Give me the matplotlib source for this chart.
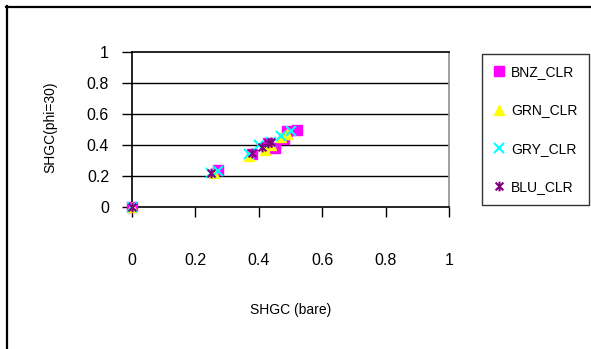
import matplotlib
matplotlib.use("Agg")
import matplotlib.pyplot as plt
from matplotlib.path import Path
from matplotlib.lines import Line2D

plt.rcParams['font.family'] = ['Liberation Sans', 'DejaVu Sans']

# Data
bnz_x = [0, 0.27, 0.38, 0.43, 0.45, 0.48, 0.49, 0.52]
bnz_y = [0, 0.24, 0.34, 0.41, 0.38, 0.44, 0.49, 0.50]
grn_x = [0, 0.26, 0.37, 0.42, 0.44, 0.47, 0.49]
grn_y = [0, 0.22, 0.33, 0.37, 0.40, 0.45, 0.47]
gry_x = [0, 0.25, 0.27, 0.37, 0.40, 0.44, 0.47, 0.50]
gry_y = [0, 0.22, 0.23, 0.34, 0.40, 0.42, 0.46, 0.49]
blu_x = [0, 0.25, 0.38, 0.41, 0.43, 0.44]
blu_y = [0, 0.22, 0.35, 0.39, 0.41, 0.42]
series_names = ["BNZ_CLR", "GRN_CLR", "GRY_CLR", "BLU_CLR"]
ticks = [0, 0.2, 0.4, 0.6, 0.8, 1]
tick_labels = ["0", "0.2", "0.4", "0.6", "0.8", "1"]

W, H = 591, 349
fig = plt.figure(figsize=(W / 100, H / 100), dpi=100)

# outer frame (left and top edges visible)
fig.add_artist(Line2D([6.5 / W, 6.5 / W], [0, 1 - 6 / H], transform=fig.transFigure,
                      color='black', lw=1.6))
fig.add_artist(Line2D([6 / W, 1.0], [1 - 6.5 / H, 1 - 6.5 / H], transform=fig.transFigure,
                      color='black', lw=1.6))

x0, x1 = 132, 449
ytop, ybot = 52, 207
ax = fig.add_axes([x0 / W, 1 - ybot / H, (x1 - x0) / W, (ybot - ytop) / H])

star_path = Path([(-1, -1), (1, 1), (-1, 1), (1, -1), (0, -1.25), (0, 1.25)],
                 [Path.MOVETO, Path.LINETO, Path.MOVETO, Path.LINETO, Path.MOVETO, Path.LINETO])

ax.plot(bnz_x, bnz_y, ls='none', marker='s', ms=7, mfc='#FF00FF', mec='#FF00FF',
        label=series_names[0], clip_on=False, zorder=3)
ax.plot(grn_x, grn_y, ls='none', marker='^', ms=7, mfc='#FFFF00', mec='#FFFF00',
        label=series_names[1], clip_on=False, zorder=3)
ax.plot(gry_x, gry_y, ls='none', marker='x', ms=7, mew=1.5, color='#00FFFF',
        label=series_names[2], clip_on=False, zorder=3)
ax.plot(blu_x, blu_y, ls='none', marker=star_path, ms=7, mew=1.5, color='#800080',
        label=series_names[3], clip_on=False, zorder=3)

ax.set_xlim(0, 1)
ax.set_ylim(0, 1)
ax.set_xticks(ticks)
ax.set_xticklabels(tick_labels)
ax.set_yticks(ticks)
ax.set_yticklabels(tick_labels)

for y in ticks[1:-1]:
    ax.axhline(y, color='black', lw=1.0, zorder=1)

ax.spines['left'].set_color('black')
ax.spines['bottom'].set_color('black')
ax.spines['top'].set_color('black')
ax.spines['right'].set_color('#909090')
for s in ax.spines.values():
    s.set_linewidth(1.2)

ax.tick_params(axis='x', direction='out', length=7, width=1, pad=26, labelsize=11.5)
ax.tick_params(axis='y', direction='out', length=7, width=1, pad=9.5, labelsize=11.5)

fig.text(291 / W, 1 - 310 / H, "SHGC (bare)", ha='center', va='center', fontsize=10)
fig.text(50 / W, 1 - 127 / H, "SHGC(phi=30)", ha='center', va='center', fontsize=10,
         rotation=90)

leg = ax.legend(loc='upper left', bbox_to_anchor=(482 / W, 1 - 54 / H),
                bbox_transform=fig.transFigure, frameon=True, fancybox=False,
                edgecolor='black', fontsize=10, labelspacing=1.75, borderpad=0.8,
                handlelength=0.8, handletextpad=0.5, borderaxespad=0, markerscale=1.0)
leg.get_frame().set_linewidth(1.0)

fig.savefig("out.png", dpi=100)
